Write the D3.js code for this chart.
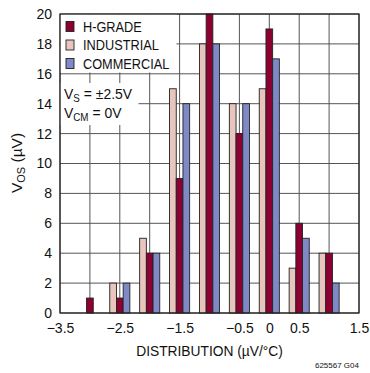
<!DOCTYPE html>
<html>
<head>
<meta charset="utf-8">
<script src="https://cdn.jsdelivr.net/npm/d3@7"></script>
<style>
  html, body { margin: 0; padding: 0; background: #fff; }
  svg { display: block; }
  text { font-family: "Liberation Sans", Arial, sans-serif; fill: #111; }
</style>
</head>
<body>
<svg id="chart" width="370" height="373"></svg>
<script>
// Distribution bin centers (µV/°C)
const bins = [-3, -2.5, -2, -1.5, -1, -0.5, 0, 0.5, 1];
// Unit counts per bin for each grade
const industrial = [0, 2, 5, 15, 18, 14, 15, 3, 4];
const hGrade     = [1, 1, 4, 9, 20, 12, 19, 6, 4];
const commercial = [0, 2, 4, 14, 18, 14, 17, 5, 2];

const seriesNames  = ["INDUSTRIAL", "H-GRADE", "COMMERCIAL"];
const legendOrder  = ["H-GRADE", "INDUSTRIAL", "COMMERCIAL"];
const seriesColors = { "H-GRADE": "#8c0032", "INDUSTRIAL": "#e8c6bd", "COMMERCIAL": "#7e89c6" };

const xTickLabels = [-3.5, -2.5, -1.5, -0.5, 0, 0.5, 1.5];
const xGrid = [-3.5, -3, -2.5, -2, -1.5, -1, -0.5, 0, 0.5, 1, 1.5];
const yTicks = [0, 2, 4, 6, 8, 10, 12, 14, 16, 18, 20];

const svg = d3.select("#chart");
const pL = 60, pR = 359, pT = 14, pB = 313;

const x = d3.scaleLinear().domain([-3.5, 1.5]).range([pL, pR]);
const y = d3.scaleLinear().domain([0, 20]).range([pB, pT]);
const barW = 6.7;

// squeeze a text horizontally to mimic a condensed face
function condense(sel, k) {
  sel.each(function () {
    const w = this.getComputedTextLength();
    this.setAttribute("textLength", (w * k).toFixed(1));
    this.setAttribute("lengthAdjust", "spacingAndGlyphs");
  });
}

// grid
svg.append("g").selectAll("line").data(yTicks).join("line")
  .attr("x1", pL).attr("x2", pR)
  .attr("y1", d => y(d)).attr("y2", d => y(d))
  .attr("stroke", "#555").attr("stroke-width", 1);
svg.append("g").selectAll("line").data(xGrid).join("line")
  .attr("x1", d => x(d)).attr("x2", d => x(d))
  .attr("y1", pT).attr("y2", pB)
  .attr("stroke", "#555").attr("stroke-width", 1);

// bars
const seriesData = { "INDUSTRIAL": industrial, "H-GRADE": hGrade, "COMMERCIAL": commercial };
seriesNames.forEach((name, si) => {
  const vals = seriesData[name];
  svg.append("g").selectAll("rect")
    .data(bins.map((b, i) => ({ b, v: vals[i] })).filter(d => d.v > 0))
    .join("rect")
    .attr("x", d => x(d.b) + (si - 1.5) * barW)
    .attr("width", barW)
    .attr("y", d => y(d.v))
    .attr("height", d => y(0) - y(d.v))
    .attr("fill", seriesColors[name])
    .attr("stroke", "#222").attr("stroke-width", 0.9);
});

// legend
svg.append("rect").attr("x", pL + 0.5).attr("y", pT + 0.5)
  .attr("width", 116).attr("height", 58).attr("fill", "#fff");
const lg = svg.append("g").selectAll("g").data(legendOrder).join("g")
  .attr("transform", (d, i) => `translate(${pL + 6},${pT + 12.5 + i * 18.5})`);
lg.append("rect").attr("x", 0).attr("y", -5).attr("width", 8).attr("height", 10)
  .attr("fill", d => seriesColors[d]).attr("stroke", "#222").attr("stroke-width", 0.9);
lg.append("text").attr("x", 17).attr("y", 0).attr("dy", "0.36em")
  .attr("font-size", 15).text(d => d).call(condense, 0.85);

// conditions box
svg.append("rect").attr("x", pL + 0.5).attr("y", 83)
  .attr("width", 78).attr("height", 42).attr("fill", "#fff");
const t1 = svg.append("text").attr("x", pL + 4).attr("y", 99).attr("font-size", 15);
t1.append("tspan").text("V");
t1.append("tspan").attr("font-size", 10.5).attr("dy", 3).text("S");
t1.append("tspan").attr("dy", -3).text(" = ±2.5V");
const t2 = svg.append("text").attr("x", pL + 4).attr("y", 118).attr("font-size", 15);
t2.append("tspan").text("V");
t2.append("tspan").attr("font-size", 10.5).attr("dy", 3).text("CM");
t2.append("tspan").attr("dy", -3).text(" = 0V");
t1.call(condense, 0.93);
t2.call(condense, 0.93);

// frame
svg.append("rect").attr("x", pL).attr("y", pT)
  .attr("width", pR - pL).attr("height", pB - pT)
  .attr("fill", "none").attr("stroke", "#222").attr("stroke-width", 1.2);

// axis labels
const xAxis = d3.axisBottom(x).tickValues(xTickLabels).tickSize(0).tickPadding(10)
  .tickFormat(d => d < 0 ? "\u2212" + Math.abs(d) : String(d));
const gx = svg.append("g").attr("transform", `translate(0,${pB})`).call(xAxis);
gx.select(".domain").remove();
gx.selectAll("text").attr("font-size", 14).attr("fill", "#111")
  .attr("font-family", "'Liberation Sans', Arial, sans-serif");

const yAxis = d3.axisLeft(y).tickValues(yTicks).tickSize(0).tickPadding(8);
const gy = svg.append("g").attr("transform", `translate(${pL},0)`).call(yAxis);
gy.select(".domain").remove();
gy.selectAll("text").attr("font-size", 14).attr("fill", "#111")
  .attr("font-family", "'Liberation Sans', Arial, sans-serif");

svg.append("text").attr("x", (pL + pR) / 2).attr("y", 356)
  .attr("text-anchor", "middle").attr("font-size", 14.5)
  .text("DISTRIBUTION (µV/°C)").call(condense, 0.95);

const yl = svg.append("text").attr("transform", "translate(22,163) rotate(-90)")
  .attr("text-anchor", "middle").attr("font-size", 15.5);
yl.append("tspan").text("V");
yl.append("tspan").attr("font-size", 11).attr("dy", 3).text("OS");
yl.append("tspan").attr("dy", -3).text(" (µV)");

svg.append("text").attr("x", 359).attr("y", 368).attr("text-anchor", "end")
  .attr("font-size", 8).text("625567 G04");
</script>
</body>
</html>
